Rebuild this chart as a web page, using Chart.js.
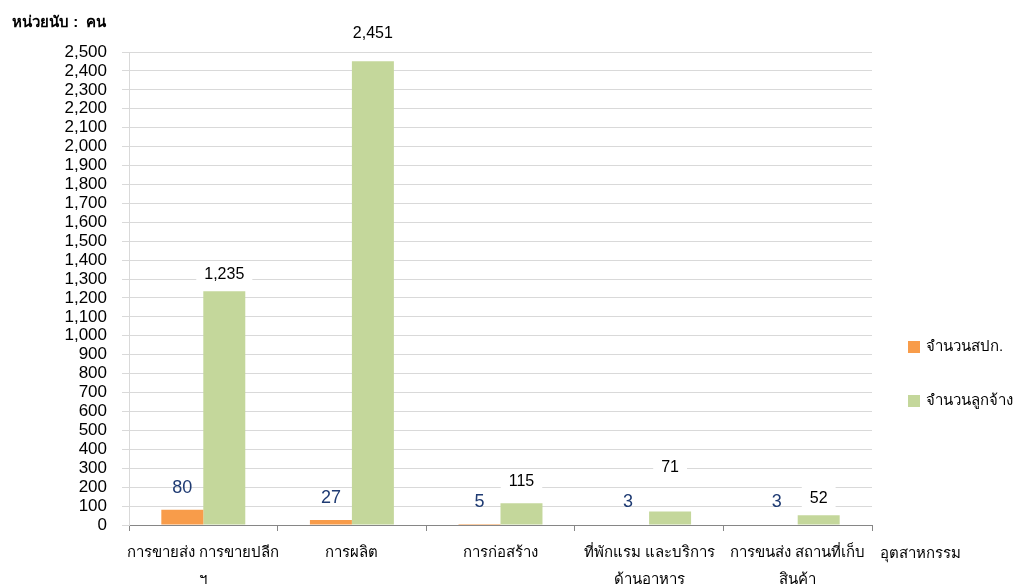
<!DOCTYPE html>
<html>
<head>
<meta charset="utf-8">
<script src="https://cdn.jsdelivr.net/npm/chart.js@4"></script>
<style>
  html, body { margin: 0; padding: 0; background: #fff; }
  #c { display: block; }
</style>
</head>
<body>
<canvas id="c" width="1019" height="586"></canvas>
<script>
// data
const categories = [
  ["การขายส่ง การขายปลีก", "ฯ"],
  "การผลิต",
  "การก่อสร้าง",
  ["ที่พักแรม และบริการ", "ด้านอาหาร"],
  ["การขนส่ง สถานที่เก็บ", "สินค้า"]
];
const establishments = [80, 27, 5, 3, 3];
const employees = [1235, 2451, 115, 71, 52];
const seriesNames = ["จำนวนสปก.", "จำนวนลูกจ้าง"];
const yTitle = "หน่วยนับ :  คน";
const xTitle = "อุตสาหกรรม";

// label lift above each green bar (px), as placed in the original
const greenLift = [17, 28, 22, 44, 17];

const FONT = "'Liberation Sans', 'Noto Sans', sans-serif";
const ORANGE = "#F89C4A";
const GREEN = "#C4D79B";

const fmt = v => v.toLocaleString("en-US");

const labelPlugin = {
  id: "barLabels",
  afterDatasetsDraw(chart) {
    const ctx = chart.ctx;
    ctx.save();
    ctx.textAlign = "center";
    ctx.textBaseline = "middle";
    chart.data.datasets.forEach((ds, di) => {
      const meta = chart.getDatasetMeta(di);
      meta.data.forEach((bar, i) => {
        const txt = fmt(ds.data[i]);
        if (di === 0) {
          ctx.font = "18px " + FONT;
          ctx.fillStyle = "#1F3B73";
          ctx.fillText(txt, bar.x, bar.y - 22);
        } else {
          ctx.font = "16px " + FONT;
          const w = ctx.measureText(txt).width;
          const y = bar.y - greenLift[i];
          ctx.fillStyle = "#fff";
          ctx.fillRect(bar.x - w / 2 - 8, y - 12, w + 16, 24);
          ctx.fillStyle = "#000";
          ctx.fillText(txt, bar.x, y);
        }
      });
    });
    ctx.restore();
  },
  afterDraw(chart) {
    const ctx = chart.ctx;
    ctx.save();
    ctx.fillStyle = "#000";
    ctx.textBaseline = "middle";
    ctx.textAlign = "left";
    ctx.font = "bold 15px " + FONT;
    ctx.fillText(yTitle, 12, 23);
    ctx.font = "15px " + FONT;
    ctx.fillText(xTitle, 880, 554);

    // legend on the right
    chart.data.datasets.forEach((ds, i) => {
      const y = 347 + i * 54;
      ctx.fillStyle = ds.backgroundColor;
      ctx.fillRect(908, y - 6, 12, 12);
      ctx.fillStyle = "#000";
      ctx.font = "15px " + FONT;
      ctx.fillText(ds.label, 926, y);
    });
    ctx.restore();
  }
};

new Chart(document.getElementById("c"), {
  type: "bar",
  data: {
    labels: categories,
    datasets: [
      { label: seriesNames[0], data: establishments, backgroundColor: ORANGE },
      { label: seriesNames[1], data: employees, backgroundColor: GREEN }
    ]
  },
  options: {
    responsive: false,
    animation: false,
    layout: { padding: { top: 52, right: 147, left: 0, bottom: 0 } },
    plugins: {
      legend: { display: false },
      tooltip: { enabled: false }
    },
    datasets: {
      bar: { categoryPercentage: 0.565, barPercentage: 1.0 }
    },
    scales: {
      x: {
        grid: {
          offset: true,
          drawOnChartArea: false,
          drawTicks: true,
          tickLength: 6,
          color: "#868686"
        },
        border: { color: "#868686" },
        ticks: {
          color: "#000",
          font: { family: FONT, size: 15, lineHeight: 1.8 },
          maxRotation: 0,
          autoSkip: false,
          padding: 8
        },
        afterFit(scale) { scale.height = 61; }
      },
      y: {
        min: 0,
        max: 2500,
        grid: { color: "#D9D9D9", tickLength: 7 },
        border: { color: "#D9D9D9" },
        ticks: {
          stepSize: 100,
          autoSkip: false,
          color: "#000",
          font: { family: FONT, size: 17 },
          padding: 15,
          callback: v => fmt(v)
        },
        afterFit(scale) { scale.width = 129; }
      }
    }
  },
  plugins: [labelPlugin]
});
</script>
</body>
</html>
